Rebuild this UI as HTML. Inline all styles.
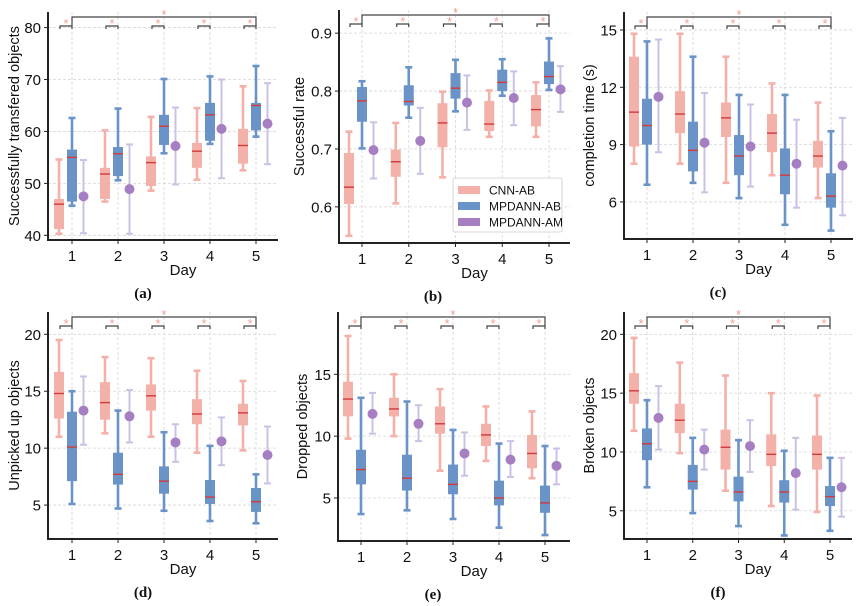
<!DOCTYPE html>
<html><head><meta charset="utf-8"><style>
html,body{margin:0;padding:0;background:#fff;}
svg{display:block;font-family:"Liberation Sans",sans-serif;}
</style></head><body>
<svg id="fig" width="864" height="606" viewBox="0 0 864 606"></svg>
<script>
const days=[1,2,3,4,5];
// each box: [whislo,q1,med,q3,whishi]
const aCNN=[[40.3,41.2,46,47,54.6],[46.5,47,51.8,53,60.2],[48.6,49.5,54,55.2,62.8],[50.7,53,56.2,57.8,64.5],[52.5,53.8,57.3,60.5,68.7]];
const aAB=[[45.7,46.5,55,56.5,62.6],[50.6,51.4,55.7,57,64.4],[55.8,57.4,61,63.2,70.1],[57.6,58.2,63.2,65.5,70.6],[59,60.2,65,65.5,72.6]];
const aAM=[[40.4,47.5,54.5],[40.3,48.9,57.5],[49.8,57.2,64.6],[51,60.5,70],[53.7,61.5,69.3]];
const bCNN=[[0.55,0.605,0.634,0.693,0.73],[0.606,0.652,0.678,0.699,0.745],[0.651,0.703,0.745,0.779,0.799],[0.721,0.731,0.743,0.783,0.801],[0.721,0.739,0.768,0.793,0.815]];
const bAB=[[0.701,0.747,0.783,0.807,0.817],[0.754,0.775,0.782,0.81,0.841],[0.765,0.787,0.805,0.831,0.854],[0.792,0.8,0.815,0.837,0.855],[0.802,0.812,0.825,0.851,0.891]];
const bAM=[[0.649,0.698,0.746],[0.657,0.714,0.771],[0.733,0.78,0.827],[0.741,0.788,0.834],[0.764,0.803,0.843]];
const cCNN=[[8,8.9,10.7,13.6,14.8],[8,9.6,10.6,11.8,14.8],[7,9.4,10.4,11.2,13.6],[7.4,8.6,9.6,10.6,12.2],[6.2,7.8,8.4,9.2,11.2]];
const cAB=[[6.9,9,10,11.4,14.4],[7,7.6,8.7,10.2,13.6],[6.2,7.4,8.4,9.5,11.6],[4.8,6.4,7.4,8.8,11.6],[4.5,5.7,6.3,7.5,9.7]];
const cAM=[[8.6,11.5,14.5],[6.5,9.1,11.7],[6.8,8.9,11.1],[5.7,8,10.3],[5.3,7.9,10.4]];
const dCNN=[[11,12.6,14.8,16.7,19.5],[11.3,12.5,14,15.8,18],[11,13.3,14.6,15.6,17.9],[9.6,12.1,13,14.3,16.8],[9.8,12,13.1,13.9,15.9]];
const dAB=[[5.1,7.1,10.1,13.2,15],[4.7,6.8,7.7,9.6,13.3],[4.5,6,7.1,8.4,11.4],[3.6,5.1,5.7,7.2,10.2],[3.4,4.4,5.3,6.5,7.7]];
const dAM=[[10.3,13.3,16.3],[10.5,12.8,15.1],[8.8,10.5,12.1],[8.5,10.6,12.7],[6.9,9.4,11.9]];
const eCNN=[[9.8,11.6,13,14.4,18.1],[10,11.6,12.2,13.1,15],[7.2,10.2,11,12.4,13.8],[8,9.2,10.1,11,12.4],[6.6,7.4,8.6,10.1,12]];
const eAB=[[3.7,6.1,7.3,8.9,13.1],[4,5.6,6.6,8.5,12.8],[3.3,5.3,6.1,7.7,10.5],[2.6,4.4,5,6.4,9.4],[2,3.8,4.6,6,9.2]];
const eAM=[[10.2,11.8,13.5],[9.6,11,12.5],[6.8,8.6,10.3],[6.7,8.1,9.6],[6.1,7.6,9]];
const fCNN=[[11.8,14.1,15.2,16.7,19.7],[9.9,11.6,12.7,14.1,17.6],[6.7,8.5,10.4,11.9,16.5],[5.4,8.8,9.8,11.5,15],[4.9,8.5,9.8,11.4,14.8]];
const fAB=[[7,9.3,10.7,12,14.4],[4.8,6.8,7.5,8.9,11.2],[3.7,5.8,6.6,7.9,11],[2.9,5.7,6.6,7.6,10.1],[3.3,5.4,6.2,7.1,9.5]];
const fAM=[[10.2,12.9,15.6],[8.5,10.2,11.9],[8.3,10.5,12.7],[5.1,8.2,11.2],[4.5,7,9.5]];
const aTicks=[40,50,60,70,80], bTicks=[0.6,0.7,0.8,0.9], cTicks=[6,9,12,15], dTicks=[5,10,15,20], eTicks=[5,10,15], fTicks=[5,10,15,20];
const yTitles=["Successfully transfered objects","Successful rate","completion time (s)","Unpicked up objects","Dropped objects","Broken objects"];
const captions=["(a)","(b)","(c)","(d)","(e)","(f)"];
const legendLabels=["CNN-AB","MPDANN-AB","MPDANN-AM"];

const panels=[
 {k:'a',cnn:aCNN,ab:aAB,am:aAM,ticks:aTicks,dec:0,L:48,R:278,T:12,B:240,x1:72,x5:256,ymin:39.1,ymax:83,yl:15,cx:143},
 {k:'b',cnn:bCNN,ab:bAB,am:bAM,ticks:bTicks,dec:1,L:339,R:570,T:10,B:243,x1:362,x5:549,ymin:0.5376,ymax:0.94,yl:300,cx:433},
 {k:'c',cnn:cCNN,ab:cAB,am:cAM,ticks:cTicks,dec:0,L:624,R:853,T:12,B:239,x1:647,x5:831,ymin:4.06,ymax:15.94,yl:590,cx:718},
 {k:'d',cnn:dCNN,ab:dAB,am:dAM,ticks:dTicks,dec:0,L:48,R:278,T:312,B:539,x1:72,x5:256,ymin:2.02,ymax:21.96,yl:15,cx:143},
 {k:'e',cnn:eCNN,ab:eAB,am:eAM,ticks:eTicks,dec:0,L:338,R:570,T:312,B:541,x1:361,x5:545,ymin:1.52,ymax:20.04,yl:303,cx:433},
 {k:'f',cnn:fCNN,ab:fAB,am:fAM,ticks:fTicks,dec:0,L:624,R:852,T:312,B:539,x1:647,x5:830,ymin:2.6,ymax:21.9,yl:590,cx:718}
];
const NS="http://www.w3.org/2000/svg";
const svg=document.getElementById('fig');
function mk(tag,attrs,parent){const e=document.createElementNS(NS,tag);for(const a in attrs)e.setAttribute(a,attrs[a]);(parent||svg).appendChild(e);return e;}
const PINK="#f4b1a9",BLUE="#6a93c8",PURP="#a67fc2",LAV="#cbc1e4",MED="#d23a3c";

panels.forEach((p,pi)=>{
  const g=mk('g',{});
  
  
  const sx=d=>p.x1+(d-1)*(p.x5-p.x1)/4;
  const sy=v=>p.B-(v-p.ymin)/(p.ymax-p.ymin)*(p.B-p.T);
  p.ticks.forEach(t=>{
    const l=mk('line',{x1:p.L,x2:p.R,y1:sy(t),y2:sy(t),stroke:'#d6d6d6','stroke-width':0.8,'stroke-dasharray':'3,2'},g);
    
    
    const tx=mk('text',{x:p.L-7,y:sy(t)+5.5,'text-anchor':'end','font-size':15,fill:'#111'},g);
    tx.textContent=t.toFixed(p.dec);
    
    
    mk('line',{x1:p.L-4,x2:p.L,y1:sy(t),y2:sy(t),stroke:'#222','stroke-width':1},g);
  });
  days.forEach(d=>{
    const l=mk('line',{x1:sx(d),x2:sx(d),y1:p.T,y2:p.B,stroke:'#d6d6d6','stroke-width':0.8,'stroke-dasharray':'3,2'},g);
    
    
    mk('line',{x1:sx(d),x2:sx(d),y1:p.B,y2:p.B+4,stroke:'#222','stroke-width':1},g);
    const tx=mk('text',{x:sx(d),y:p.B+21,'text-anchor':'middle','font-size':15,fill:'#111'},g);
    tx.textContent=d;
    
    
  });
  const ax=mk('path',{d:`M${p.L},${p.T} V${p.B} H${p.R}`,fill:'none',stroke:'#222','stroke-width':2},g);
  
  
  function box(data,off,col,name){
    data.forEach((v,i)=>{
      const x=sx(days[i])+off;
      const bg=mk('g',{},g);
      
      
      mk('line',{x1:x,x2:x,y1:sy(v[0]),y2:sy(v[4]),stroke:col,'stroke-width':2.6},bg);
      mk('line',{x1:x-3.5,x2:x+3.5,y1:sy(v[0]),y2:sy(v[0]),stroke:col,'stroke-width':2.6},bg);
      mk('line',{x1:x-3.5,x2:x+3.5,y1:sy(v[4]),y2:sy(v[4]),stroke:col,'stroke-width':2.6},bg);
      mk('rect',{x:x-5,y:sy(v[3]),width:10,height:Math.max(1,sy(v[1])-sy(v[3])),fill:col},bg);
      mk('line',{x1:x-5,x2:x+5,y1:sy(v[2]),y2:sy(v[2]),stroke:MED,'stroke-width':1.4},bg);
    });
  }
  box(p.cnn,-13,PINK,'cnn-ab');
  box(p.ab,0,BLUE,'mpdann-ab');
  p.am.forEach((v,i)=>{
    const x=sx(days[i])+11.5;
    const bg=mk('g',{},g);
    
    
    mk('line',{x1:x,x2:x,y1:sy(v[0]),y2:sy(v[2]),stroke:LAV,'stroke-width':2},bg);
    mk('line',{x1:x-3.5,x2:x+3.5,y1:sy(v[0]),y2:sy(v[0]),stroke:LAV,'stroke-width':2},bg);
    mk('line',{x1:x-3.5,x2:x+3.5,y1:sy(v[2]),y2:sy(v[2]),stroke:LAV,'stroke-width':2},bg);
    mk('circle',{cx:x,cy:sy(v[1]),r:5,fill:PURP},bg);
  });
  const sg=mk('g',{},g);
  
  
  const by=p.T+14, ly=p.T+5;
  days.forEach(d=>{
    const x0=sx(d)-12,x1=sx(d);
    mk('path',{d:`M${x0},${by+3} V${by} H${x1} V${by+3}`,fill:'none',stroke:'#444','stroke-width':1.2},sg);
    const s=mk('text',{x:(x0+x1)/2,y:by+2,'text-anchor':'middle','font-size':13,fill:'#f0a099'},sg);s.textContent='*';
  });
  mk('path',{d:`M${sx(1)},${by} V${ly} H${sx(5)} V${by}`,fill:'none',stroke:'#444','stroke-width':1.2},sg);
  const s2=mk('text',{x:sx(3),y:ly+2,'text-anchor':'middle','font-size':13,fill:'#f0a099'},sg);s2.textContent='*';
  const yt=mk('text',{x:p.yl,y:(p.T+p.B)/2,'text-anchor':'middle','font-size':14.5,fill:'#111',transform:`rotate(-90 ${p.yl} ${(p.T+p.B)/2})`,'dominant-baseline':'central'},g);
  yt.textContent=yTitles[pi];
  
  
  const xt=mk('text',{x:(p.L+p.R)/2+20,y:p.B+35,'text-anchor':'middle','font-size':15,fill:'#111'},g);
  xt.textContent='Day';
  
  
  const cp=mk('text',{x:p.cx,y:p.B+58,'text-anchor':'middle','font-size':15,'font-weight':'bold','font-family':'Liberation Serif, serif',fill:'#111'},g);
  cp.textContent=captions[pi];
  
  
});
const lg=mk('g',{});


mk('rect',{x:453,y:178,width:109,height:54,fill:'#fff',stroke:'#ccc','stroke-width':0.8,rx:2},lg);
const lcols=[PINK,BLUE,PURP];
legendLabels.forEach((t,i)=>{
  const y=190+i*16;
  const e=mk('g',{},lg);
  
  
  mk('rect',{x:458,y:y-4,width:22,height:8,fill:lcols[i]},e);
  const tx=mk('text',{x:489,y:y+4.5,'font-size':12,fill:'#111'},e);
  tx.textContent=t;
});
</script>
</body></html>
